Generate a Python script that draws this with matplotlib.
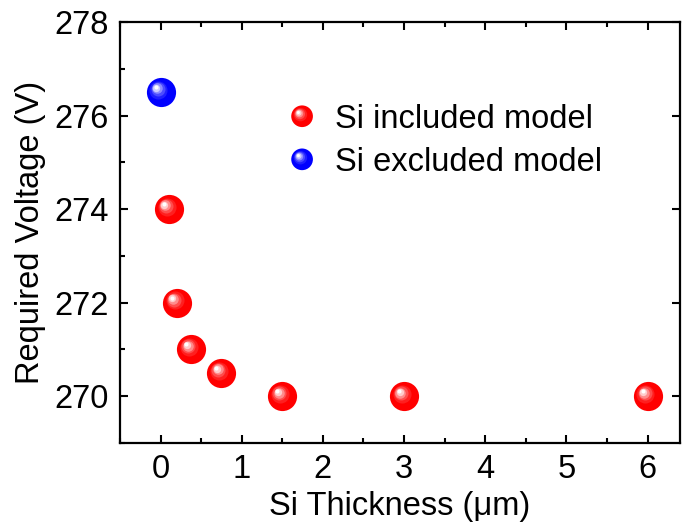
import matplotlib
matplotlib.use("Agg")
import matplotlib.pyplot as plt
import numpy as np
from matplotlib.transforms import offset_copy
from matplotlib.legend_handler import HandlerBase
from matplotlib.patches import Circle
from matplotlib.ticker import MultipleLocator
from matplotlib.colors import to_rgb

plt.rcParams['font.family'] = ['Liberation Sans', 'DejaVu Sans']

# Data
included_x = [0.1, 0.2, 0.38, 0.75, 1.5, 3.0, 6.0]
included_y = [274.0, 272.0, 271.0, 270.5, 270.0, 270.0, 270.0]
excluded_x = [0.0]
excluded_y = [276.5]
labels = ["Si included model", "Si excluded model"]
colors = ["#ff0000", "#0000ff"]

FS = 23.5

fig = plt.figure(figsize=(6.82, 5.28), dpi=100)
ax = fig.add_axes([120/682, 85/528, 560/682, 421/528])

LAYERS = [(0.62, 0.12), (0.48, 0.3), (0.36, 0.55), (0.25, 0.8), (0.14, 1.0)]

def mix(c, t):
    c = np.array(to_rgb(c))
    return tuple(c * (1 - t) + np.ones(3) * t)

def spheres(x, y, color, ms=21):
    ax.plot(x, y, 'o', ms=ms, color=color, mec='none', zorder=3, clip_on=False)
    R = ms / 2
    for i, (frac, t) in enumerate(LAYERS):
        off = 0.34 * R * (1 - frac) / (1 - 0.14)
        tr = offset_copy(ax.transData, fig=fig, x=-off, y=off, units='points')
        ax.plot(x, y, 'o', ms=ms * frac, color=mix(color, t), mec='none',
                zorder=4 + i, transform=tr, clip_on=False)

spheres(included_x, included_y, colors[0])
spheres(excluded_x, excluded_y, colors[1])

class SphereHandler(HandlerBase):
    def __init__(self, color, r=7.8):
        super().__init__()
        self.color = color
        self.r = r
    def create_artists(self, legend, orig_handle, xdescent, ydescent, width,
                       height, fontsize, trans):
        cx = width / 2 - xdescent
        cy = height / 2 - ydescent
        arts = [Circle((cx, cy), self.r, facecolor=self.color, edgecolor='none', transform=trans)]
        for frac, t in LAYERS:
            off = 0.34 * self.r * (1 - frac) / (1 - 0.14)
            arts.append(Circle((cx - off, cy + off), self.r * frac,
                               facecolor=mix(self.color, t), edgecolor='none', transform=trans))
        return arts

h1 = ax.plot([], [], 'o', color=colors[0])[0]
h2 = ax.plot([], [], 'o', color=colors[1])[0]
ax.legend([h1, h2], labels, handler_map={h1: SphereHandler(colors[0]), h2: SphereHandler(colors[1])},
          loc='upper left', bbox_to_anchor=(0.296, 0.806), frameon=False, fontsize=FS,
          handlelength=1.0, handletextpad=0.5, labelspacing=0.37, borderpad=0, borderaxespad=0)

ax.set_xlim(-0.5, 6.4)
ax.set_ylim(269, 278)
ax.xaxis.set_major_locator(MultipleLocator(1))
ax.xaxis.set_minor_locator(MultipleLocator(0.5))
ax.yaxis.set_major_locator(MultipleLocator(2))
ax.yaxis.set_minor_locator(MultipleLocator(1))
ax.tick_params(which='both', direction='in', top=True, right=True, width=1.5, labelsize=FS)
ax.tick_params(which='major', length=6, pad=8)
ax.tick_params(which='minor', length=3.5, right=False)
for s in ax.spines.values():
    s.set_linewidth(1.6)

ax.set_xlabel("Si Thickness (μm)", fontsize=FS, labelpad=4)
ax.set_ylabel("Required Voltage (V)", fontsize=FS, labelpad=6)

fig.savefig("out.png", dpi=100)
